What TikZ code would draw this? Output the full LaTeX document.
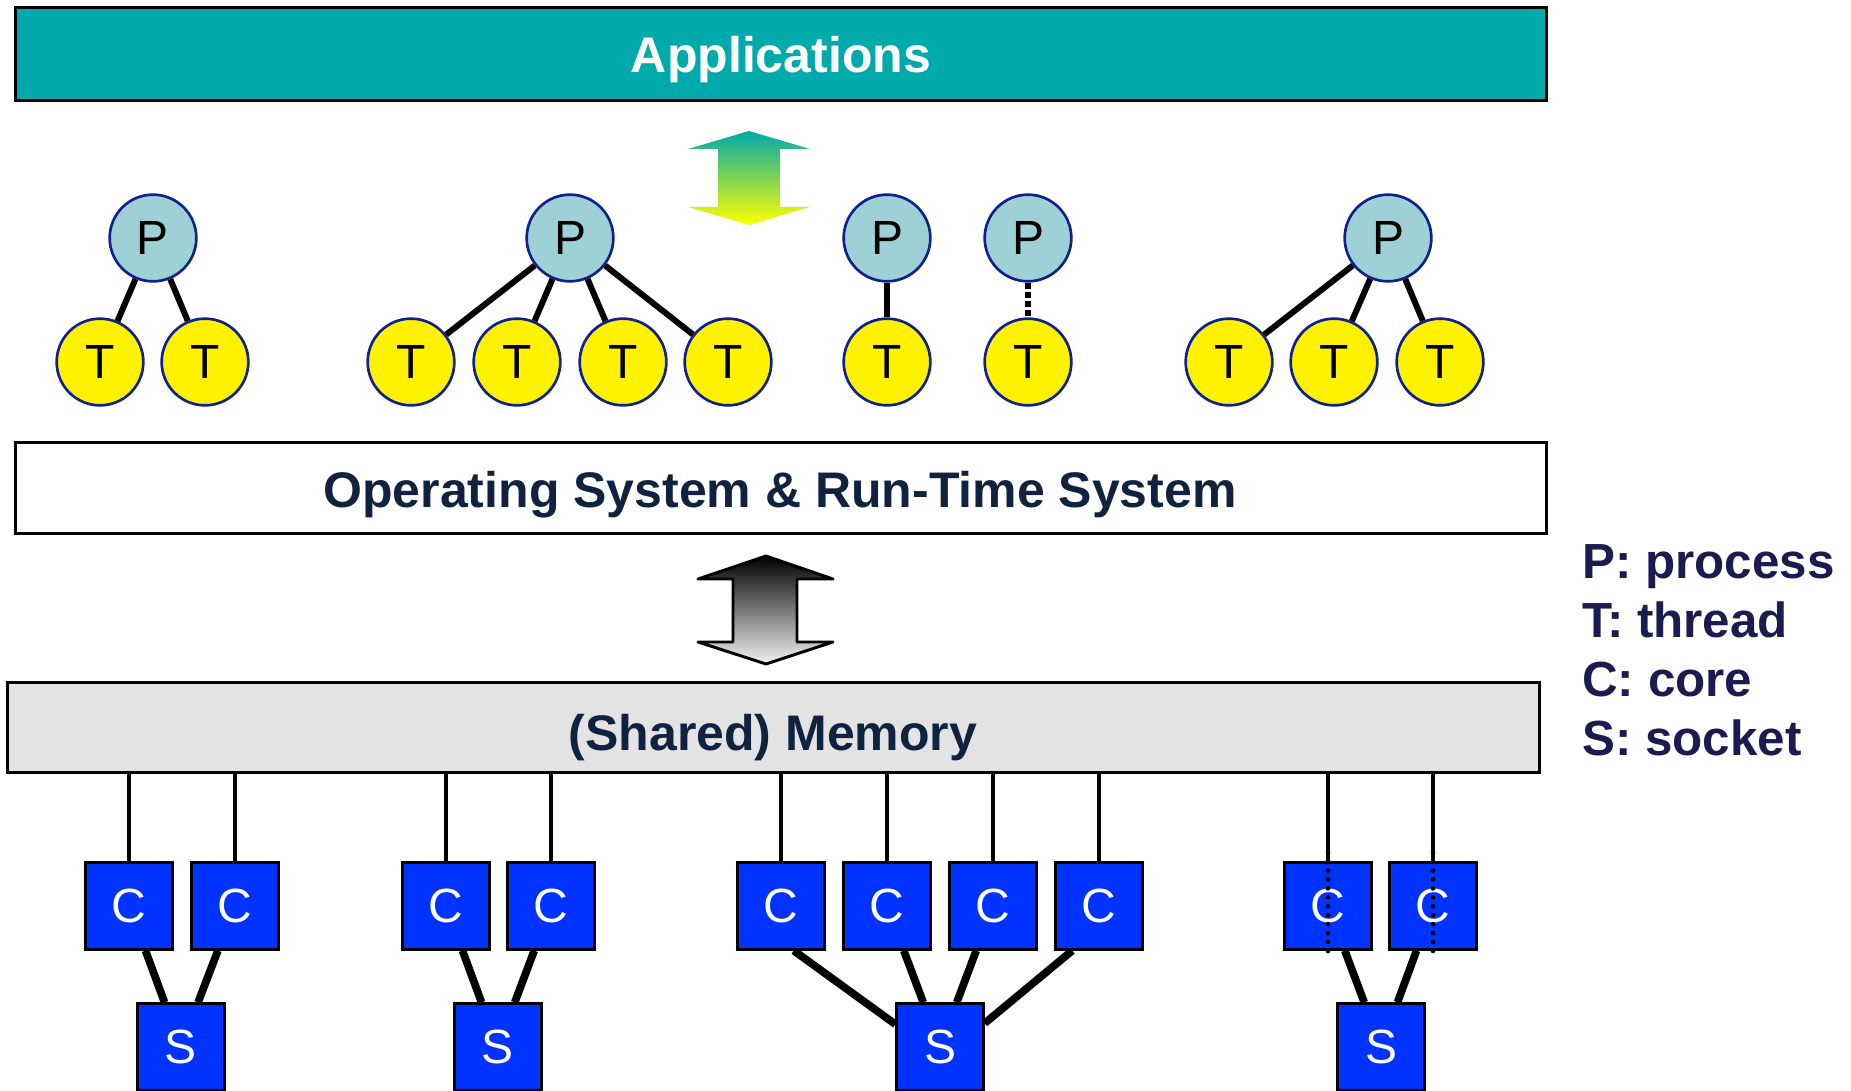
\documentclass[tikz,border=0pt]{standalone}
\usepackage{fontspec}
\setmainfont{Liberation Sans}
\usepackage{tikz}

\definecolor{appteal}{RGB}{0,169,170}
\definecolor{procblue}{RGB}{157,209,214}
\definecolor{ringblue}{RGB}{16,32,140}
\definecolor{coreblue}{RGB}{0,51,255}
\definecolor{memgray}{RGB}{227,227,227}
\definecolor{osnavy}{RGB}{15,34,64}
\definecolor{keynavy}{RGB}{27,27,79}

\begin{document}
\begin{tikzpicture}[x=0.75pt,y=0.75pt,yscale=-1,xscale=1,
  proc/.style={circle,draw=ringblue,line width=2pt,fill=procblue,minimum size=65pt,inner sep=0pt,font=\fontsize{36}{40}\selectfont},
  thrd/.style={proc,fill=yellow},
  unit/.style={rectangle,draw=black,line width=2pt,fill=coreblue,minimum size=65pt,inner sep=0pt,text=white,font=\fontsize{36}{40}\selectfont},
  layer/.style={rectangle,draw=black,line width=2pt,minimum width=1148pt,minimum height=68pt,inner sep=0pt},
  title/.style={anchor=base,inner sep=0pt,text=osnavy,font=\bfseries\fontsize{37.5}{44}\selectfont},
  key/.style={anchor=base west,inner sep=0pt,text=keynavy,font=\bfseries\fontsize{37}{44}\selectfont},
  link/.style={line width=4.5pt},
  wire/.style={line width=5.8pt},
  bus/.style={line width=2.3pt},
  dots/.style={line width=3.5pt,line cap=round,dash pattern=on 0pt off 6.7pt}]
\useasboundingbox (0,0) rectangle (1851,1091);

%Layers
\node [layer,fill=appteal,minimum height=70pt] (app) at (781,54) {};
\node [title,text=white] (applabel) at (781,73) {Applications};
\node [layer,fill=white] (os) at (781,488) {};
\node [title] (oslabel) at (780,507) {Operating System \& Run-Time System};
\node [layer,fill=memgray,minimum width=1149pt,minimum height=67.5pt] (mem) at (773.5,727.5) {};
\node [title] (memlabel) at (773,750) {(Shared) Memory};

%Double arrows
\shade [top color=appteal,bottom color=yellow] (749,131) -- (810,149) -- (780,149) -- (780,207) -- (810,207) -- (749,225) -- (688,207) -- (718,207) -- (718,149) -- (688,149) -- cycle ;
\shadedraw [top color=black,bottom color=black!5,draw=black,line width=2.2pt,line join=round] (766,556) -- (833,579) -- (797,579) -- (797,642) -- (833,642) -- (766,664) -- (698,642) -- (733,642) -- (733,579) -- (698,579) -- cycle ;

%Processes and threads
\node [proc] (p1) at (153,238) {P};
\node [proc] (p2) at (570,238) {P};
\node [proc] (p3) at (887,238) {P};
\node [proc] (p4) at (1028,238) {P};
\node [proc] (p5) at (1388,238) {P};
\node [thrd] (t1) at (100,362) {T};
\node [thrd] (t2) at (205,362) {T};
\node [thrd] (t3) at (411,362) {T};
\node [thrd] (t4) at (517,362) {T};
\node [thrd] (t5) at (623,362) {T};
\node [thrd] (t6) at (728,362) {T};
\node [thrd] (t7) at (887,362) {T};
\node [thrd] (t8) at (1028,362) {T};
\node [thrd] (t9) at (1229,362) {T};
\node [thrd] (t10) at (1334,362) {T};
\node [thrd] (t11) at (1440,362) {T};

\draw [link] (p1) -- (t1) (p1) -- (t2) ;
\draw [link] (p2) -- (t3) (p2) -- (t4) (p2) -- (t5) (p2) -- (t6) ;
\draw [link] (p3) -- (t7) ;
\draw [link,dash pattern=on 4.5pt off 2.3pt] (p4) -- (t8) ;
\draw [link] (p5) -- (t9) (p5) -- (t10) (p5) -- (t11) ;

%Cores and sockets
\node [unit] (c1) at (129,906) {C};
\node [unit] (c2) at (235,906) {C};
\node [unit] (c3) at (446,906) {C};
\node [unit] (c4) at (551,906) {C};
\node [unit] (c5) at (781,906) {C};
\node [unit] (c6) at (887,906) {C};
\node [unit] (c7) at (993,906) {C};
\node [unit] (c8) at (1099,906) {C};
\node [unit] (c9) at (1328,906) {C};
\node [unit] (c10) at (1433,906) {C};
\node [unit] (s1) at (181,1047) {S};
\node [unit] (s2) at (498,1047) {S};
\node [unit] (s3) at (940,1047) {S};
\node [unit] (s4) at (1381,1047) {S};

\draw [bus] (c1.north) -- (c1.north |- mem.south) (c2.north) -- (c2.north |- mem.south) ;
\draw [bus] (c3.north) -- (c3.north |- mem.south) (c4.north) -- (c4.north |- mem.south) ;
\draw [bus] (c5.north) -- (c5.north |- mem.south) (c6.north) -- (c6.north |- mem.south) ;
\draw [bus] (c7.north) -- (c7.north |- mem.south) (c8.north) -- (c8.north |- mem.south) ;
\draw [bus] (c9.north) -- (c9.north |- mem.south) (c10.north) -- (c10.north |- mem.south) ;
\draw [dots] ([yshift=-6.5pt]c9.north) -- ([yshift=6.5pt]c9.south) ;
\draw [dots] ([yshift=-6.5pt]c10.north) -- ([yshift=6.5pt]c10.south) ;

\draw [wire] (c1) -- (s1) (c2) -- (s1) ;
\draw [wire] (c3) -- (s2) (c4) -- (s2) ;
\draw [wire] (c5.-74) -- (s3.153) (c6) -- (s3) (c7) -- (s3) (c8.-121) -- (s3.28) ;
\draw [wire] (c9) -- (s4) (c10) -- (s4) ;

%Legend
\node [key] (keyp) at (1582,578) {P: process};
\node [key] (keyt) at (1582,637) {T: thread};
\node [key] (keyc) at (1582,696) {C: core};
\node [key] (keys) at (1582,755) {S: socket};

\end{tikzpicture}
\end{document}
